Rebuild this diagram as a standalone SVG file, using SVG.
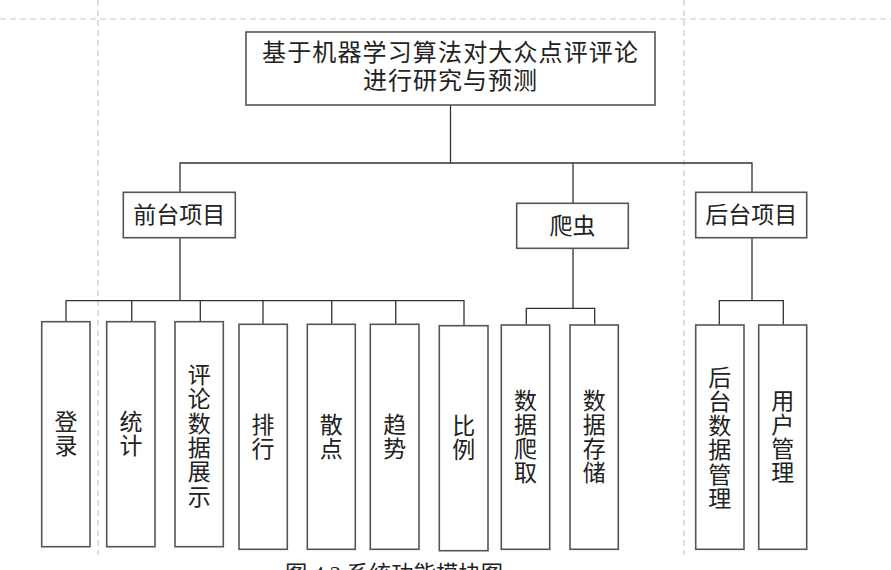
<svg xmlns="http://www.w3.org/2000/svg" width="891" height="570" viewBox="0 0 891 570">
<style>
.guide{stroke:#c8c8c8;stroke-width:1.2;stroke-dasharray:6 4;fill:none}
.box{fill:#fff;stroke:#555;stroke-width:1.6}
.con{fill:none;stroke:#333;stroke-width:1.3}
.t{font-family:"Noto Sans CJK SC","Noto Sans",sans-serif;font-size:23px;fill:#222;text-anchor:middle}
.title{font-family:"Noto Sans CJK SC","Noto Sans",sans-serif;font-size:24px;fill:#222}
.cap{font-family:"Liberation Serif","Noto Sans CJK SC",serif;font-size:22px;fill:#222}
</style>
<rect x="0" y="0" width="891" height="570" fill="#fff"/>
<g id="guides">
<line class="guide" x1="0" y1="19" x2="891" y2="19"/>
<line class="guide" x1="98" y1="0" x2="98" y2="555"/>
<line class="guide" x1="684" y1="0" x2="684" y2="555"/>
</g>
<g id="connectors">
<path class="con" d="M450.5,105 V163 M180,192 V163 H752 V192 M573,163 V203"/>
<path class="con" d="M180,238 V300.7 M66,322 V300.7 H464 V326 M131.7,300.7 V322 M200.3,300.7 V322 M263,300.7 V324 M331.7,300.7 V324 M395.7,300.7 V324"/>
<path class="con" d="M573,248 V308.3 M526.3,325 V308.3 H594.7 V325"/>
<path class="con" d="M752,238 V300.7 M719.3,325 V300.7 H783.3 V325"/>
</g>
<g id="root">
<rect class="box" x="246" y="32" width="409" height="73"/>
<text class="title" x="262" y="61" textLength="376" lengthAdjust="spacing">基于机器学习算法对大众点评评论</text>
<text class="title" x="363" y="89" textLength="174" lengthAdjust="spacing">进行研究与预测</text>
</g>
<g id="frontend">
<rect class="box" x="123.3" y="192.3" width="112" height="45.4"/>
<text class="t" x="179.3" y="223" font-size="24">前台项目</text>
</g>
<g id="crawler">
<rect class="box" x="516.7" y="203.3" width="111.6" height="45"/>
<text class="t" x="572.5" y="234" font-size="24">爬虫</text>
</g>
<g id="backend">
<rect class="box" x="695.7" y="192.3" width="111" height="45.4"/>
<text class="t" x="751.2" y="223" font-size="24">后台项目</text>
</g>
<g id="login">
<rect class="box" x="41.7" y="321.7" width="48.3" height="225"/>
<text class="t"><tspan x="66" y="430">登</tspan><tspan x="66" dy="24.3">录</tspan></text>
</g>
<g id="stats">
<rect class="box" x="106.7" y="321.7" width="48.3" height="225"/>
<text class="t"><tspan x="131" y="430">统</tspan><tspan x="131" dy="24.3">计</tspan></text>
</g>
<g id="display">
<rect class="box" x="175" y="321.7" width="48.3" height="225"/>
<text class="t"><tspan x="199.3" y="383">评</tspan><tspan x="199.3" dy="24.3">论</tspan><tspan x="199.3" dy="24.3">数</tspan><tspan x="199.3" dy="24.3">据</tspan><tspan x="199.3" dy="24.3">展</tspan><tspan x="199.3" dy="24.3">示</tspan></text>
</g>
<g id="rank">
<rect class="box" x="239" y="324.3" width="48.3" height="225"/>
<text class="t"><tspan x="263" y="432.5">排</tspan><tspan x="263" dy="24.3">行</tspan></text>
</g>
<g id="scatter">
<rect class="box" x="307.3" y="324.3" width="48" height="225"/>
<text class="t"><tspan x="331.3" y="432.5">散</tspan><tspan x="331.3" dy="24.3">点</tspan></text>
</g>
<g id="trend">
<rect class="box" x="370.3" y="324.3" width="48.7" height="225"/>
<text class="t"><tspan x="394.7" y="432.5">趋</tspan><tspan x="394.7" dy="24.3">势</tspan></text>
</g>
<g id="ratio">
<rect class="box" x="439.3" y="325.7" width="48.7" height="225"/>
<text class="t"><tspan x="463.7" y="434">比</tspan><tspan x="463.7" dy="24.3">例</tspan></text>
</g>
<g id="crawl">
<rect class="box" x="501.3" y="325" width="48.4" height="224.3"/>
<text class="t"><tspan x="525.5" y="408.5">数</tspan><tspan x="525.5" dy="24.3">据</tspan><tspan x="525.5" dy="24.3">爬</tspan><tspan x="525.5" dy="24.3">取</tspan></text>
</g>
<g id="store">
<rect class="box" x="570" y="325" width="48.3" height="224.3"/>
<text class="t"><tspan x="594.2" y="408.5">数</tspan><tspan x="594.2" dy="24.3">据</tspan><tspan x="594.2" dy="24.3">存</tspan><tspan x="594.2" dy="24.3">储</tspan></text>
</g>
<g id="datamgmt">
<rect class="box" x="695.7" y="325" width="48.3" height="224.3"/>
<text class="t"><tspan x="719.8" y="385.5">后</tspan><tspan x="719.8" dy="24.3">台</tspan><tspan x="719.8" dy="24.3">数</tspan><tspan x="719.8" dy="24.3">据</tspan><tspan x="719.8" dy="24.3">管</tspan><tspan x="719.8" dy="24.3">理</tspan></text>
</g>
<g id="usermgmt">
<rect class="box" x="758.7" y="325" width="48" height="224.3"/>
<text class="t"><tspan x="782.7" y="408.5">用</tspan><tspan x="782.7" dy="24.3">户</tspan><tspan x="782.7" dy="24.3">管</tspan><tspan x="782.7" dy="24.3">理</tspan></text>
</g>
<text class="cap" x="285" y="581" textLength="218" lengthAdjust="spacingAndGlyphs">图 4.2 系统功能模块图</text>
</svg>
